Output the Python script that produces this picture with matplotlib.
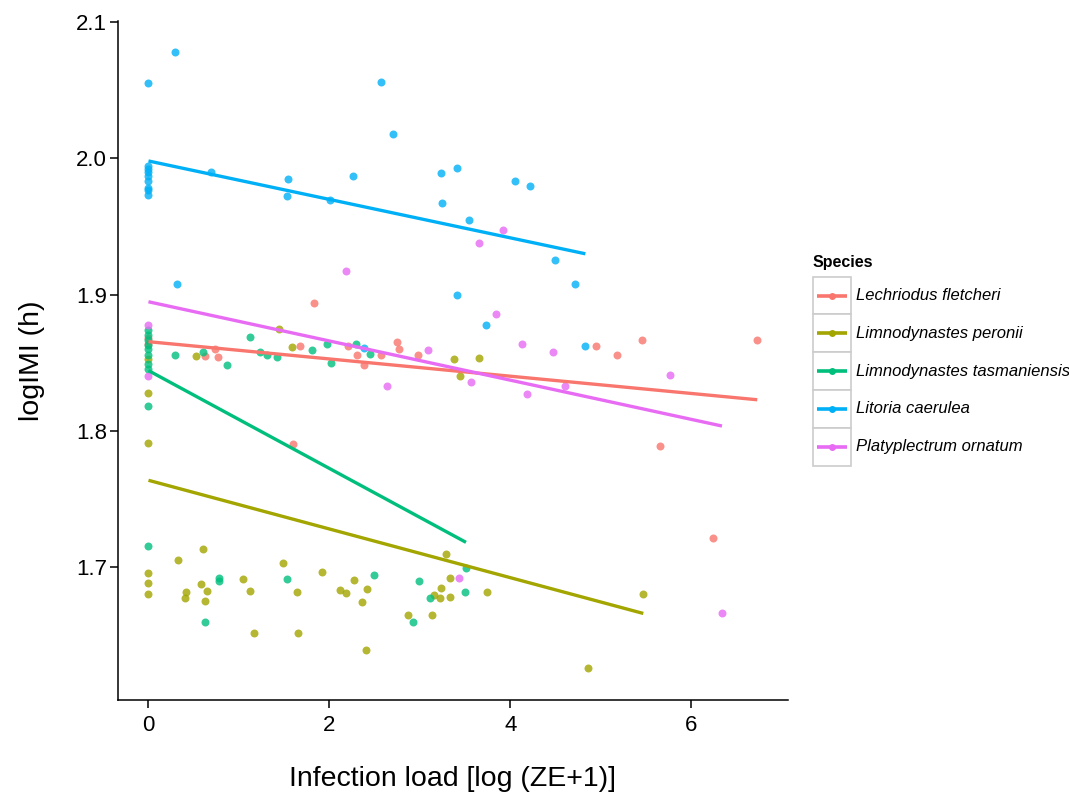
import numpy as np
import matplotlib
matplotlib.use("Agg")
import matplotlib.pyplot as plt
from matplotlib.patches import Rectangle

plt.rcParams['font.family'] = ['Liberation Sans', 'DejaVu Sans']

species = ['Lechriodus fletcheri', 'Limnodynastes peronii', 'Limnodynastes tasmaniensis',
           'Litoria caerulea', 'Platyplectrum ornatum']
colors = ['#F8766D', '#A3A500', '#00BF7D', '#00B0F6', '#E76BF3']

# infection load and logIMI, one pair of lists per species
fletcheri_x = [0, 0, 0.625, 0.73, 0.77, 1.825, 1.68, 1.60, 2.21, 2.30, 2.38, 2.57, 2.75, 2.77,
               2.98, 4.945, 5.18, 5.46, 5.66, 6.73, 6.24]
fletcheri_y = [1.868, 1.864, 1.855, 1.860, 1.854, 1.894, 1.8625, 1.790, 1.862, 1.856, 1.848,
               1.856, 1.865, 1.860, 1.856, 1.862, 1.856, 1.867, 1.789, 1.867, 1.721]

peronii_x = [0, 0, 0, 0, 0, 0, 0.52, 1.446, 1.59, 3.38, 3.44, 3.65, 0.325, 0.415, 0.40, 0.60,
             0.58, 0.65, 0.63, 1.05, 1.12, 1.17, 1.49, 1.64, 1.65, 1.92, 2.115, 2.18, 2.27, 2.36,
             2.42, 2.40, 2.87, 3.13, 3.16, 3.22, 3.23, 3.29, 3.33, 3.33, 3.745, 5.47, 4.86]
peronii_y = [1.8276, 1.7908, 1.853, 1.6957, 1.6882, 1.6803, 1.8547, 1.8747, 1.8615, 1.8525,
             1.840, 1.8537, 1.7052, 1.6816, 1.6774, 1.7132, 1.6874, 1.6825, 1.6752, 1.6915,
             1.6823, 1.6513, 1.7032, 1.6818, 1.6518, 1.6966, 1.683, 1.6808, 1.6906, 1.6747,
             1.684, 1.6391, 1.6647, 1.6647, 1.6798, 1.6776, 1.6845, 1.7098, 1.692, 1.6784,
             1.6816, 1.6806, 1.6257]

tasmaniensis_x = [0, 0, 0, 0, 0, 0, 0, 0, 0, 0, 0.29, 0.60, 0.87, 1.126, 1.236, 1.31, 1.42,
                  1.81, 1.97, 2.02, 2.29, 2.45, 0.63, 0.78, 0.78, 1.53, 2.49, 2.99, 2.92, 3.11,
                  3.51, 3.50]
tasmaniensis_y = [1.874, 1.8705, 1.867, 1.863, 1.860, 1.856, 1.849, 1.845, 1.818, 1.7152,
                  1.856, 1.858, 1.8486, 1.869, 1.858, 1.8557, 1.854, 1.859, 1.864, 1.8495,
                  1.8637, 1.8564, 1.660, 1.692, 1.690, 1.6915, 1.694, 1.690, 1.660, 1.6776,
                  1.6993, 1.6816]

caerulea_x = [0, 0.29, 0, 0, 0, 0, 0, 0, 0, 0, 0.69, 1.545, 1.53, 2.01, 2.26, 2.575, 2.70,
              3.23, 3.41, 3.24, 4.05, 4.22, 3.54, 4.49, 4.71, 3.41, 3.73, 4.83, 0.32, 2.38]
caerulea_y = [2.055, 2.078, 1.994, 1.992, 1.990, 1.987, 1.983, 1.978, 1.977, 1.973, 1.990,
              1.985, 1.972, 1.969, 1.987, 2.056, 2.018, 1.989, 1.993, 1.967, 1.983, 1.980,
              1.955, 1.925, 1.908, 1.900, 1.878, 1.862, 1.908, 1.861]

ornatum_x = [0, 0, 2.185, 2.64, 3.09, 3.915, 3.65, 3.845, 4.13, 4.47, 3.56, 4.18, 4.61, 5.76,
             3.43, 6.34]
ornatum_y = [1.878, 1.840, 1.9176, 1.833, 1.859, 1.947, 1.938, 1.886, 1.864, 1.858, 1.836,
             1.827, 1.833, 1.841, 1.692, 1.666]

# fitted lines (intercept, slope)
intercepts = [1.8654, 1.7637, 1.8442, 1.998, 1.8947]
slopes = [-0.00633, -0.01786, -0.0359, -0.0141, -0.01438]

xs = [fletcheri_x, peronii_x, tasmaniensis_x, caerulea_x, ornatum_x]
ys = [fletcheri_y, peronii_y, tasmaniensis_y, caerulea_y, ornatum_y]

W, H = 1069, 796
fig = plt.figure(figsize=(W / 100, H / 100), dpi=100)
ax = fig.add_axes([118 / W, 1 - 700 / H, (788 - 118) / W, (700 - 21) / H])

for x, y, c in zip(xs, ys, colors):
    ax.scatter(x, y, s=33, color=c, alpha=0.8, linewidths=0, zorder=2)

for x, b, m, c in zip(xs, intercepts, slopes, colors):
    lx = np.array([min(x), max(x)])
    ax.plot(lx, b + m * lx, color=c, lw=2.4, solid_capstyle='butt', zorder=3)

ax.set_xlim(-0.337, 7.07)
ax.set_ylim(1.6025, 2.1007)
ax.set_xticks([0, 2, 4, 6])
ax.set_yticks([1.7, 1.8, 1.9, 2.0, 2.1])
ax.set_yticklabels(['1.7', '1.8', '1.9', '2.0', '2.1'])
for side in ['top', 'right']:
    ax.spines[side].set_visible(False)
for side in ['left', 'bottom']:
    ax.spines[side].set_linewidth(1.1)
ax.tick_params(axis='both', length=5.5, width=1.1, color='black', pad=2.5)
ax.tick_params(axis='y', labelsize=16)
ax.tick_params(axis='x', labelsize=16, pad=5)
ax.set_xlabel('Infection load [log (ZE+1)]', fontsize=20.5, labelpad=22)
ax.set_ylabel('logIMI (h)', fontsize=20.5, labelpad=22)

# legend drawn by hand, in pixel units of the figure
lax = fig.add_axes([800 / W, 1 - 480 / H, 269 / W, 240 / H])
lax.set_xlim(800, 1069)
lax.set_ylim(480, 240)
lax.axis('off')
lax.text(813, 262, 'Species', fontsize=11.5, fontweight='bold', va='center', ha='left')
key_h = 37.8
for i, (name, c) in enumerate(zip(species, colors)):
    top = 276.7 + i * key_h
    cy = top + key_h / 2
    lax.add_patch(Rectangle((812.7, top), 38, key_h, facecolor='white',
                            edgecolor='#CCCCCC', lw=1.2))
    lax.plot([816.7, 846.7], [cy, cy], color=c, lw=2.6, solid_capstyle='butt')
    lax.plot([831.7], [cy], 'o', color=c, ms=5, mew=0)
    lax.text(856, cy, name, fontsize=12, fontstyle='italic', va='center', ha='left')

fig.savefig('out.png', dpi=100)
